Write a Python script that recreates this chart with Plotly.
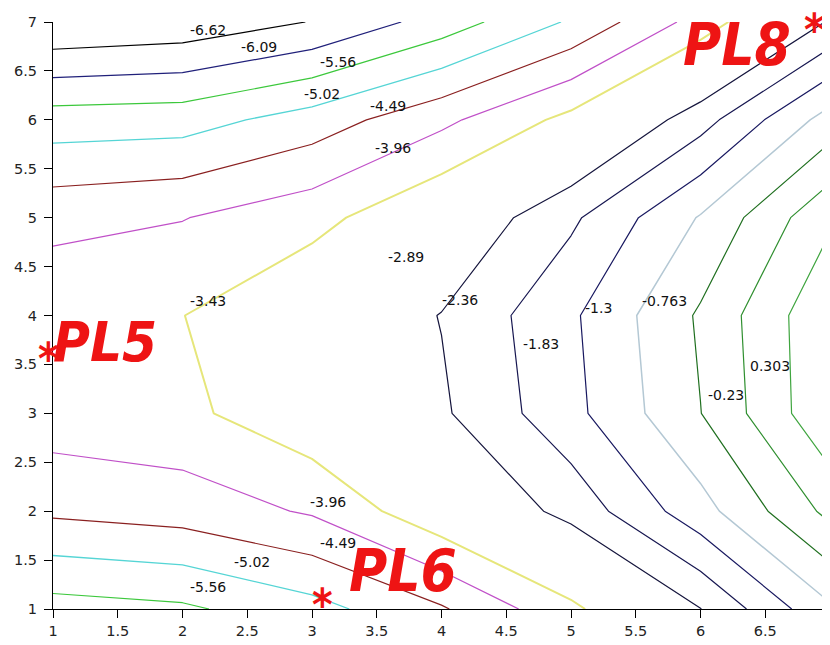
import plotly.graph_objects as go

# grid of the measured field (rows: y = 1..7, columns: x = 1..7)
x_vals = [1, 2, 3, 4, 5, 6, 7]
y_vals = [1, 2, 3, 4, 5, 6, 7]
z_rows = [
    [-5.78, -5.65, -5.21, -4.55, -3.56, -2.37, -0.85],
    [-4.39, -4.25, -3.90, -3.03, -2.18, -0.97, 0.45],
    [-3.67, -3.56, -3.02, -2.44, -1.46, -0.24, 1.29],
    [-3.57, -3.44, -2.90, -2.34, -1.39, -0.155, 1.30],
    [-4.12, -3.98, -3.62, -2.90, -1.93, -0.72, 0.75],
    [-5.30, -5.25, -4.78, -4.09, -3.27, -2.05, -0.53],
    [-7.13, -6.99, -6.60, -5.86, -4.95, -3.74, -2.30],
]

# contour levels and their labels
levels = [-6.62, -6.09, -5.56, -5.02, -4.49, -3.96, -3.43, -2.89,
          -2.36, -1.83, -1.3, -0.763, -0.23, 0.303, 0.836]
level_text = ["-6.62", "-6.09", "-5.56", "-5.02", "-4.49", "-3.96", "-3.43", "-2.89",
              "-2.36", "-1.83", "-1.3", "-0.763", "-0.23", "0.303", "0.836"]
level_colors = ["#000000", "#20207a", "#3cc83c", "#55d5d5", "#8a2020", "#c050c8",
                "#e6e67a", "#ffffff", "#14143c", "#161650", "#181860", "#b4c8d4",
                "#1f6f1f", "#2f8f2f", "#3fa53f"]
level_widths = [1.2, 1.2, 1.2, 1.3, 1.2, 1.2, 2.0, 1.0,
                1.2, 1.2, 1.2, 1.5, 1.2, 1.2, 1.2]

# inline label placements (level index, text start x, y)
label_level = [0, 1, 2, 3, 4, 5, 7, 6, 8, 10, 11, 9, 13, 12, 5, 4, 3, 2]
label_x = [2.04, 2.44, 3.05, 2.92, 3.43, 3.47, 3.57, 2.04, 3.99, 5.09, 5.53, 4.61,
           6.37, 6.04, 2.97, 3.05, 2.38, 2.04]
label_y = [6.92, 6.74, 6.59, 6.26, 6.14, 5.71, 4.60, 4.15, 4.16, 4.08, 4.15, 3.71,
           3.48, 3.19, 2.09, 1.67, 1.48, 1.22]

# hand-written station marks (positions as fractions of the plot area)
mark_text = ["PL5", "*", "PL6", "*", "PL8", "*"]
mark_px = [0.067, -0.006, 0.450, 0.347, 0.880, 0.980]
mark_py = [0.455, 0.427, 0.065, 0.008, 0.960, 0.987]
mark_size = [56, 44, 58, 44, 58, 44]

fig = go.Figure()
for lv, col, w in zip(levels, level_colors, level_widths):
    fig.add_trace(go.Contour(
        x=x_vals, y=y_vals, z=z_rows,
        autocontour=False,
        contours=dict(start=lv, end=lv, size=1, coloring="none", showlabels=False),
        line=dict(color=col, width=w, smoothing=0),
        showscale=False, hoverinfo="skip",
    ))

annotations = []
for li, lx, ly in zip(label_level, label_x, label_y):
    annotations.append(dict(
        x=lx, y=ly, xref="x", yref="y", text=level_text[li], showarrow=False,
        xanchor="left", yanchor="middle",
        font=dict(family="DejaVu Sans", size=14, color="#111111"),
    ))
for t, mx, my, ms in zip(mark_text, mark_px, mark_py, mark_size):
    annotations.append(dict(
        x=mx, y=my, xref="paper", yref="paper", text="<b><i>" + t + "</i></b>",
        showarrow=False, xanchor="center", yanchor="middle",
        font=dict(family="Liberation Sans Narrow, DejaVu Sans Condensed, Liberation Sans",
                  size=ms, color="#ee1414"),
    ))

axis_common = dict(
    range=[1, 7], dtick=0.5, showgrid=False, zeroline=False, automargin=False,
    showline=True, linecolor="#000000", linewidth=1.2,
    ticks="outside", ticklen=8, tickcolor="#000000", tickwidth=1,
    tickfont=dict(family="DejaVu Sans", size=14.5, color="#222222"),
    mirror=False,
)

# page body adds an 8 px offset; the figure is sized so the plot area lands
# where the reference has it
fig.update_layout(
    width=822, height=637,
    margin=dict(l=45, r=0, t=14, b=36),
    paper_bgcolor="white", plot_bgcolor="white",
    xaxis=dict(**axis_common, ticklabeloverflow="allow"),
    yaxis=dict(**axis_common, ticklabelstandoff=4),
    annotations=annotations,
    showlegend=False,
)

fig.write_html("out.html")
